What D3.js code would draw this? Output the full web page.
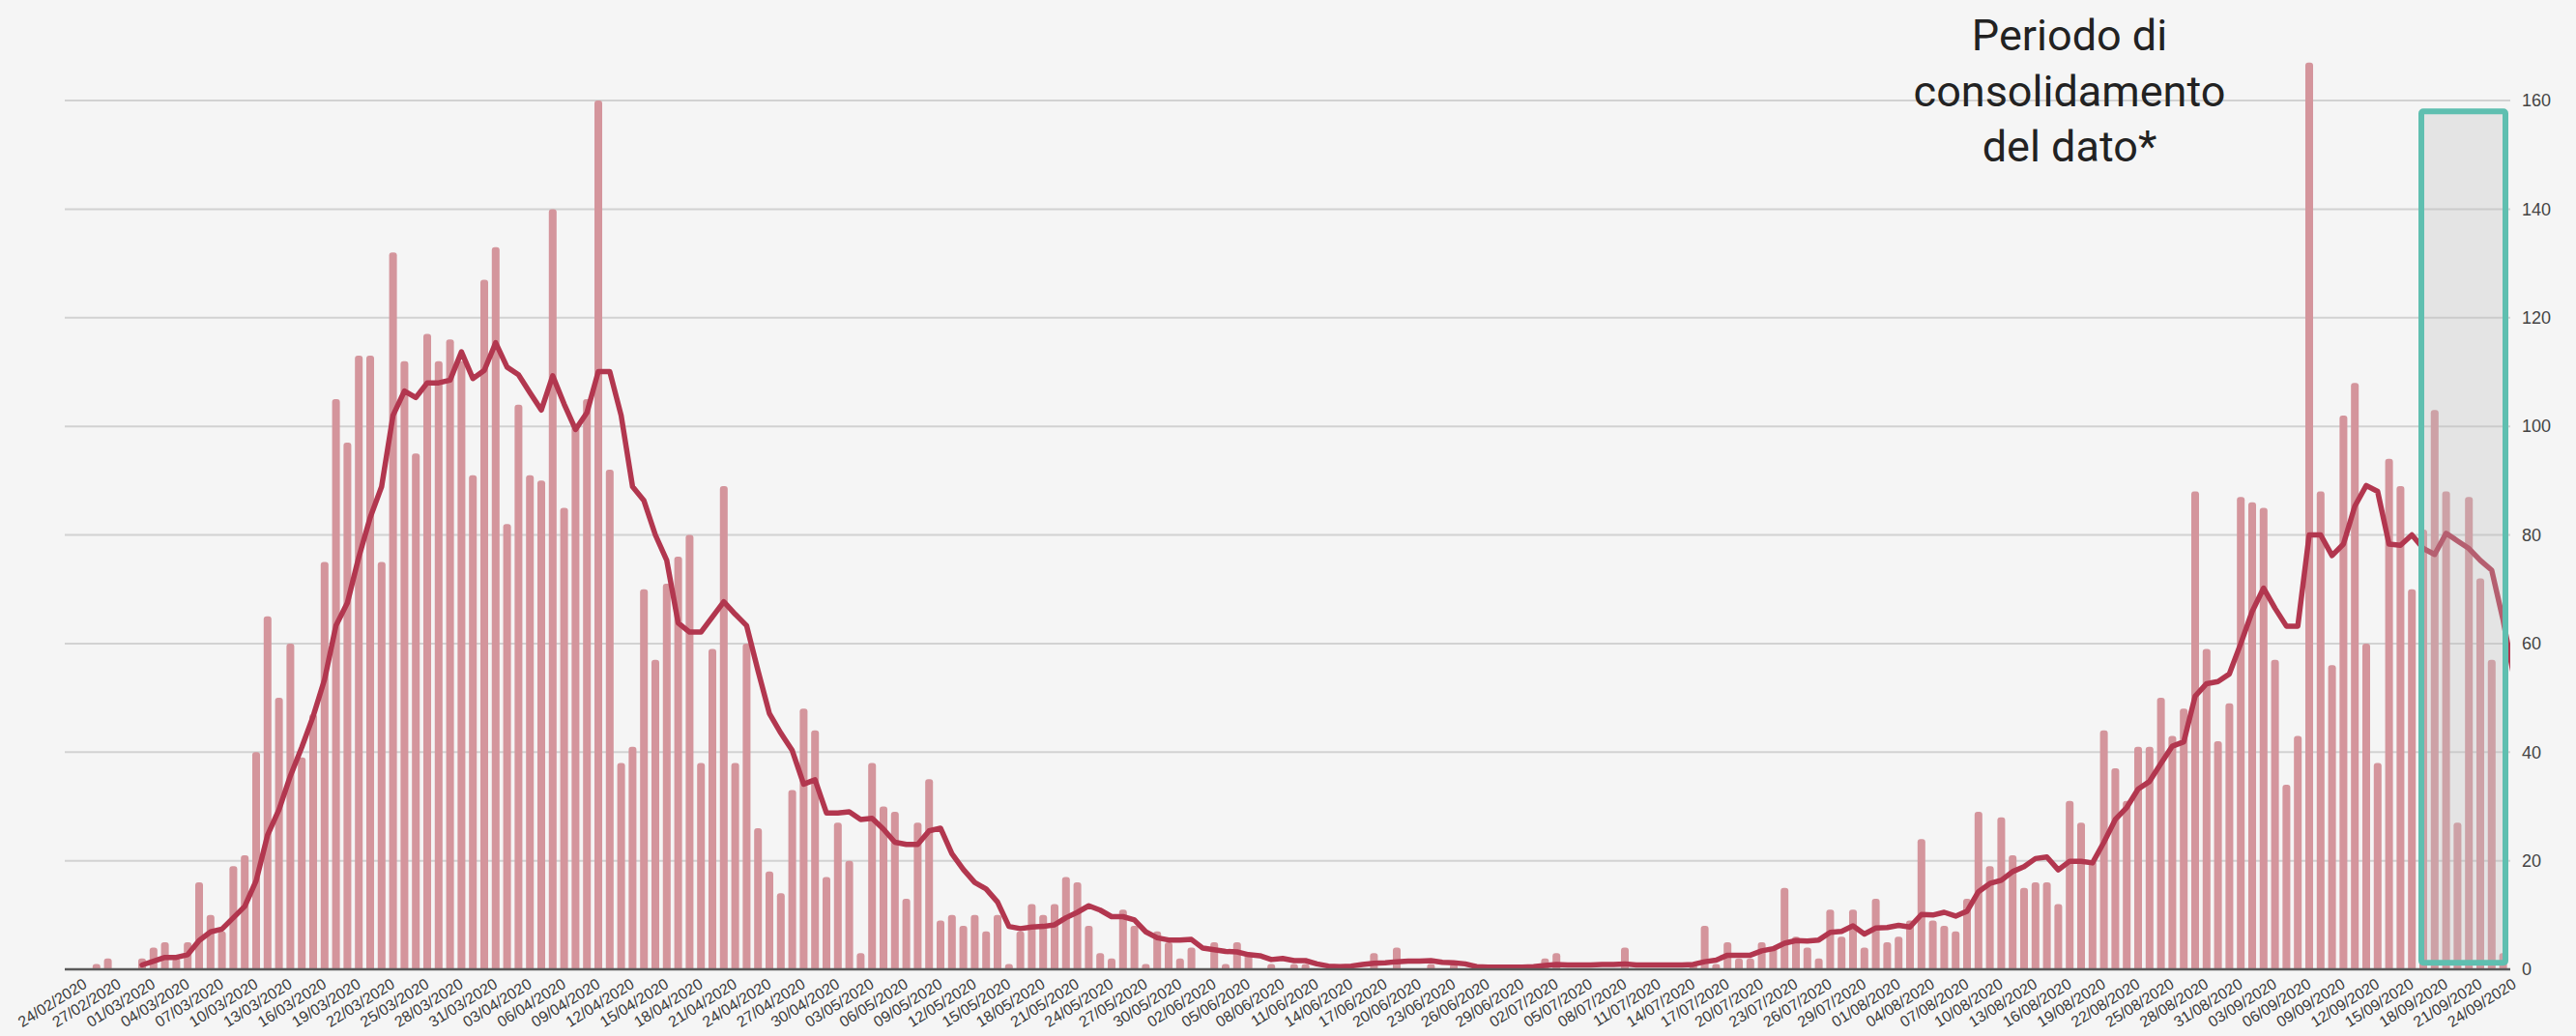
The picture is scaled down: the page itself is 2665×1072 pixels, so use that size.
<!DOCTYPE html>
<html>
<head>
<meta charset="utf-8">
<script src="https://cdn.jsdelivr.net/npm/d3@7"></script>
<style>
  html, body { margin: 0; padding: 0; background: #f5f5f5; }
  svg { display: block; }
</style>
</head>
<body>
<div id="chart"></div>
<script>
// daily cases, 24/02/2020 .. 24/09/2020
const startDate = new Date(2020, 1, 24);
const endDate = new Date(2020, 8, 24);

const dailyCases = [
  0, 1, 2, 0, 0, 2, 4, 5, 2, 5, 16, 10, 7, 19, 21, 40, 65, 50, 60, 39,
  47, 75, 105, 97, 113, 113, 75, 132, 112, 95, 117, 112, 116, 112, 91, 127, 133, 82, 104, 91,
  90, 140, 85, 100, 105, 160, 92, 38, 41, 70, 57, 71, 76, 80, 38, 59, 89, 38, 60, 26,
  18, 14, 33, 48, 44, 17, 27, 20, 3, 38, 30, 29, 13, 27, 35, 9, 10, 8, 10, 7,
  10, 1, 7, 12, 10, 12, 17, 16, 8, 3, 2, 11, 8, 1, 7, 5, 2, 4, 0, 5,
  1, 5, 3, 0, 1, 0, 1, 1, 0, 0, 0, 0, 0, 3, 0, 4, 0, 0, 1, 0,
  1, 0, 0, 0, 0, 0, 0, 0, 2, 3, 0, 0, 0, 0, 0, 4, 0, 0, 0, 0,
  0, 1, 8, 1, 5, 2, 2, 5, 4, 15, 6, 4, 2, 11, 6, 11, 4, 13, 5, 6,
  9, 24, 9, 8, 7, 13, 29, 19, 28, 21, 15, 16, 16, 12, 31, 27, 20, 44, 37, 31,
  41, 41, 50, 43, 48, 88, 59, 42, 49, 87, 86, 85, 57, 34, 43, 167, 88, 56, 102, 108,
  60, 38, 94, 89, 70, 81, 103, 88, 27, 87, 72, 57, 3, 39
];

// 7-day average as drawn (starts 29/02)
const lineStart = new Date(2020, 1, 29);
const movingAvg = [
  0.8, 1.5, 2.2, 2.2, 2.7, 5.3, 6.9, 7.4, 9.5, 11.6, 16.3, 24.7, 29.4, 35.6, 40.9,
  46.6, 53.4, 63.3, 67.5, 75.9, 83.2, 88.9, 102, 106.5, 105.3, 108, 108, 108.5, 113.7, 108.8,
  110.3, 115.4, 110.9, 109.5, 106.2, 103, 109.3, 104.1, 99.4, 102.5, 110.1, 110.1, 102, 88.9, 86.3,
  80, 75.3, 63.8, 62.1, 62.1, 64.9, 67.7, 65.4, 63.3, 55, 47.1, 43.5, 40.3, 34.1, 34.9,
  28.8, 28.8, 29, 27.6, 27.8, 25.8, 23.4, 23, 23, 25.5, 26, 21.3, 18.4, 16, 14.8,
  12.4, 7.9, 7.5, 7.8, 7.9, 8.2, 9.5, 10.5, 11.7, 10.9, 9.7, 9.7, 9.1, 6.9, 5.8,
  5.4, 5.4, 5.5, 3.9, 3.6, 3.3, 3.2, 2.7, 2.5, 1.8, 2, 1.6, 1.6, 1.0, 0.6,
  0.5, 0.6, 0.9, 1.1, 1.2, 1.4, 1.5, 1.5, 1.6, 1.3, 1.2, 1.0, 0.5, 0.4, 0.4,
  0.4, 0.4, 0.5, 0.7, 0.9, 0.8, 0.8, 0.8, 0.9, 0.9, 1.0, 0.8, 0.8, 0.8, 0.8,
  0.8, 0.9, 1.4, 1.7, 2.6, 2.6, 2.6, 3.4, 3.8, 4.8, 5.3, 5.2, 5.4, 6.8, 7.0,
  8.0, 6.5, 7.6, 7.7, 8.1, 7.8, 10.1, 10.0, 10.5, 9.8, 10.7, 14.3, 15.8, 16.4, 18.0,
  18.9, 20.4, 20.7, 18.3, 19.9, 19.9, 19.6, 23.4, 27.6, 29.8, 33.2, 34.6, 37.9, 41.1, 41.9,
  50.3, 52.6, 53, 54.4, 60, 65.9, 70.2, 66.5, 63.2, 63.2, 80, 80, 76.2, 78.3, 85.3,
  89.1, 88, 78.3, 78.1, 80, 77.5, 76.4, 80.3, 78.9, 77.5, 75.3, 73.5, 64.3, 53.3
];

const yTicks = [0, 20, 40, 60, 80, 100, 120, 140, 160];
const consolidStart = new Date(2020, 8, 16);
const consolidEnd = new Date(2020, 8, 23);
const noteLines = ["Periodo di", "consolidamento", "del dato*"];

const width = 2665;
const height = 1072;
const plotLeft = 67;
const plotRight = 2597;

const dates = d3.timeDay.range(startDate, d3.timeDay.offset(endDate, 1));
const fmt = d3.timeFormat("%d/%m/%Y");

const svg = d3.select("#chart")
  .append("svg")
  .attr("width", width)
  .attr("height", height)
  .attr("viewBox", `0 0 ${width} ${height}`);

svg.append("rect")
  .attr("width", width)
  .attr("height", height)
  .attr("fill", "#f5f5f5");

const x = d3.scaleBand()
  .domain(dates.map(d => +d))
  .range([82.1, 82.1 + 11.8 * dates.length])
  .paddingInner(0.32)
  .paddingOuter(0.16);

const y = d3.scaleLinear()
  .domain([0, 160])
  .range([1003, 104]);

const cx = d => x(+d) + x.bandwidth() / 2;

svg.append("clipPath")
  .attr("id", "plot-clip")
  .append("rect")
  .attr("x", plotLeft)
  .attr("y", 0)
  .attr("width", plotRight - plotLeft)
  .attr("height", y(0));

// grid lines
svg.append("g")
  .selectAll("line")
  .data(yTicks.filter(t => t > 0))
  .enter()
  .append("line")
  .attr("x1", plotLeft)
  .attr("x2", plotRight)
  .attr("y1", d => y(d))
  .attr("y2", d => y(d))
  .attr("stroke", "#d2d2d2")
  .attr("stroke-width", 2);

// y axis on the right
const yAxis = svg.append("g")
  .attr("transform", `translate(${plotRight}, 0)`)
  .call(d3.axisRight(y).tickValues(yTicks).tickSize(0).tickPadding(12));
yAxis.select(".domain").remove();
yAxis.selectAll("text")
  .style("font-family", "'Liberation Sans', Arial, sans-serif")
  .style("font-size", "18px")
  .attr("fill", "#444");

const plot = svg.append("g").attr("clip-path", "url(#plot-clip)");

// bars
plot.selectAll("rect.bar")
  .data(dates.map((d, i) => ({ date: d, value: dailyCases[i] })).filter(d => d.value > 0))
  .enter()
  .append("rect")
  .attr("class", "bar")
  .attr("x", d => x(+d.date))
  .attr("y", d => y(d.value))
  .attr("width", x.bandwidth())
  .attr("height", d => y(0) - y(d.value) + 2)
  .attr("rx", 3)
  .attr("fill", "#d4959c");

// moving average line
const lineData = movingAvg.map((v, i) => ({ date: d3.timeDay.offset(lineStart, i), value: v }));
const line = d3.line()
  .x(d => cx(d.date))
  .y(d => y(d.value));

plot.append("path")
  .datum(lineData)
  .attr("d", line)
  .attr("fill", "none")
  .attr("stroke", "#b2374f")
  .attr("stroke-width", 5.5)
  .attr("stroke-linejoin", "round")
  .attr("stroke-linecap", "round");

// x axis baseline
svg.append("line")
  .attr("x1", plotLeft)
  .attr("x2", plotRight)
  .attr("y1", y(0))
  .attr("y2", y(0))
  .attr("stroke", "#5a5a5a")
  .attr("stroke-width", 2.5);

// x labels every 3 days
svg.append("g")
  .selectAll("text")
  .data(dates.filter((d, i) => i % 3 === 0))
  .enter()
  .append("text")
  .attr("transform", d => `translate(${cx(d) + 3}, ${y(0) + 18}) rotate(-32)`)
  .style("text-anchor", "end")
  .style("font-family", "'Liberation Sans', Arial, sans-serif")
  .style("font-size", "16px")
  .attr("fill", "#3a3a3a")
  .text(d => fmt(d));

// consolidation box
const boxLeft = cx(consolidStart) - 2;
const boxRight = cx(consolidEnd) + 2.4;
svg.append("rect")
  .attr("x", boxLeft)
  .attr("y", y(158))
  .attr("width", boxRight - boxLeft)
  .attr("height", y(1.2) - y(158))
  .attr("rx", 2)
  .attr("fill", "rgba(190,190,190,0.3)")
  .attr("stroke", "#5fbfb0")
  .attr("stroke-width", 6);

// note text
svg.append("text")
  .attr("x", 2141)
  .attr("y", 52)
  .style("text-anchor", "middle")
  .style("font-family", "Roboto, sans-serif")
  .style("font-size", "45px")
  .attr("fill", "#222")
  .selectAll("tspan")
  .data(noteLines)
  .enter()
  .append("tspan")
  .attr("x", 2141)
  .attr("dy", (d, i) => i === 0 ? 0 : 57.5)
  .text(d => d);
</script>
</body>
</html>
